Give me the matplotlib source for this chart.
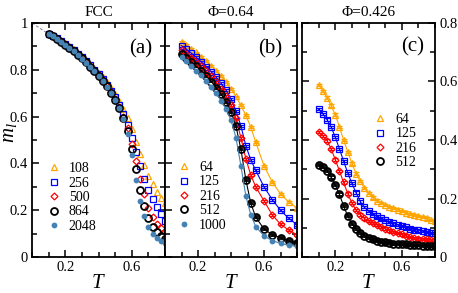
import numpy as np
import matplotlib.pyplot as plt
from matplotlib.lines import Line2D
from matplotlib.ticker import MultipleLocator, FixedLocator, FuncFormatter

plt.rcParams['font.family'] = ['Liberation Serif', 'DejaVu Serif']
plt.rcParams['mathtext.fontset'] = 'custom'
plt.rcParams['mathtext.it'] = 'Liberation Serif:italic'
plt.rcParams['mathtext.rm'] = 'Liberation Serif'

# ---- panel (a): FCC ----
T_a = [0.1, 0.125, 0.15, 0.175, 0.2, 0.225, 0.25, 0.275, 0.3, 0.325, 0.35, 0.375,
       0.4, 0.425, 0.45, 0.475, 0.5, 0.525, 0.55, 0.575, 0.6, 0.625, 0.65, 0.675,
       0.7, 0.725, 0.75, 0.775, 0.8]
sizes_a = ['108', '256', '500', '864', '2048']
m_a_108 = [.956, .947, .936, .925, .913, .900, .887, .873, .858, .842, .825, .807,
           .788, .768, .746, .722, .696, .667, .632, .592, .545, .492, .440, .392,
           .348, .310, .278, .254, .232]
m_a_256 = [.954, .945, .934, .922, .910, .897, .883, .868, .853, .837, .819, .800,
           .780, .759, .736, .710, .682, .650, .612, .566, .510, .450, .390, .335,
           .287, .248, .214, .182, .155]
m_a_500 = [.954, .944, .933, .921, .909, .895, .881, .866, .850, .834, .816, .797,
           .777, .755, .731, .705, .676, .642, .600, .550, .485, .412, .335, .268,
           .210, .170, .140, .122, .108]
m_a_864 = [.953, .943, .932, .920, .908, .894, .880, .865, .849, .832, .814, .795,
           .775, .753, .729, .702, .672, .637, .594, .538, .462, .375, .288, .218,
           .165, .130, .105, .090, .077]
m_a_2048 = [.953, .943, .932, .920, .907, .893, .879, .864, .848, .831, .813, .794,
            .773, .751, .727, .700, .670, .635, .588, .525, .435, .330, .240, .175,
            .130, .100, .082, .070, .060]
dash_T = [0.0, 0.1]
dash_m = [1.0, 0.953]

# ---- panel (b): Phi = 0.64 ----
T_b = [0.1, 0.13, 0.16, 0.19, 0.22, 0.25, 0.28, 0.31, 0.34, 0.37, 0.40, 0.43,
       0.46, 0.49, 0.52, 0.55, 0.6, 0.65, 0.7, 0.75, 0.8]
sizes_b = ['64', '125', '216', '512', '1000']
m_b_64 = [.920, .905, .890, .874, .856, .837, .817, .795, .772, .747, .718, .686,
          .648, .605, .555, .490, .390, .320, .270, .235, .210]
m_b_125 = [.903, .888, .871, .853, .834, .814, .792, .768, .742, .712, .675, .625,
           .560, .475, .415, .370, .300, .245, .200, .165, .138]
m_b_216 = [.885, .869, .852, .834, .815, .794, .772, .747, .720, .688, .648, .592,
           .510, .420, .350, .300, .240, .180, .140, .115, .095]
m_b_512 = [.867, .850, .833, .815, .795, .773, .750, .724, .695, .662, .620, .560,
           .460, .330, .230, .170, .120, .095, .083, .068, .060]
m_b_1000 = [.854, .836, .817, .797, .776, .753, .728, .700, .668, .632, .585, .510,
            .390, .260, .180, .130, .090, .070, .058, .050, .046]

# ---- panel (c): Phi = 0.426 ----
T_c = T_a
sizes_c = ['64', '125', '216', '512']
m_c_64 = [.588, .568, .545, .518, .487, .445, .400, .360, .320, .285, .260, .236,
          .218, .204, .193, .185, .178, .172, .167, .162, .157, .152, .148, .144,
          .140, .136, .132, .127, .122]
m_c_125 = [.505, .490, .470, .445, .410, .370, .328, .288, .252, .220, .190, .170,
           .157, .147, .139, .132, .126, .120, .115, .110, .105, .101, .097, .094,
           .091, .088, .086, .083, .081]
m_c_216 = [.428, .414, .398, .370, .333, .295, .255, .217, .185, .160, .145, .132,
           .123, .116, .110, .103, .097, .091, .086, .081, .077, .073, .069, .066,
           .063, .061, .060, .059, .058]
m_c_512 = [.315, .308, .295, .272, .246, .214, .175, .140, .113, .095, .082, .072,
           .065, .060, .056, .052, .050, .048, .046, .045, .044, .043, .042, .041,
           .040, .039, .038, .037, .036]
err = 0.004

# marker, color, size, edge width, filled
styles = [('^', '#FFA500', 4.3, 0.9, False),
          ('s', '#0000FF', 3.8, 0.9, False),
          ('D', '#FF0000', 3.5, 0.9, False),
          ('o', '#000000', 5.0, 1.3, False),
          ('o', '#4682B4', 4.2, 0.0, True)]


def style_axis(ax, ymax):
    ax.set_xlim(0, 0.8)
    ax.set_ylim(0, ymax)
    ax.xaxis.set_major_locator(FixedLocator([0.2, 0.6]))
    ax.xaxis.set_minor_locator(MultipleLocator(0.1))
    ax.yaxis.set_major_locator(MultipleLocator(0.2))
    ax.yaxis.set_minor_locator(MultipleLocator(0.1))
    ax.yaxis.set_major_formatter(FuncFormatter(lambda v, p: '%g' % round(v, 2)))
    ax.tick_params(which='both', direction='in', top=True, right=True,
                   width=1.1, labelsize=10.5, pad=3)
    ax.tick_params(which='major', length=5)
    ax.tick_params(which='minor', length=3.5)
    for s in ax.spines.values():
        s.set_linewidth(1.3)
    ax.set_xlabel(r'$T$', fontsize=15, labelpad=0)


def marker_kw(st):
    mk, c, ms, mew, filled = st
    return dict(marker=mk, color=c, ms=ms, mfc=c if filled else 'none',
                mec=c, mew=mew)


def proxy(st):
    return Line2D([], [], ls='none', **marker_kw(st))


leg_kw = dict(loc='upper left', frameon=False, fontsize=10, handlelength=1.0,
              handletextpad=0.6, labelspacing=0.1, borderpad=0, borderaxespad=0)

fig = plt.figure(figsize=(4.58, 2.93), dpi=100)
ax_a = fig.add_axes([32 / 458, 36 / 293, 133 / 458, 234 / 293])
ax_b = fig.add_axes([165 / 458, 36 / 293, 132 / 458, 234 / 293])
ax_c = fig.add_axes([302 / 458, 36 / 293, 133 / 458, 234 / 293])

# panel a
ax_a.plot(dash_T, dash_m, ls='--', color='gray', lw=0.7, dashes=(3, 2))
for m, st in zip([m_a_108, m_a_256, m_a_500, m_a_864, m_a_2048], styles):
    ax_a.plot(T_a, m, ls='none', **marker_kw(st))
style_axis(ax_a, 1.0)
ax_a.set_ylabel(r'$m_l$', fontsize=15)
ax_a.yaxis.set_label_coords(-0.1, 0.53)
ax_a.set_title('FCC', fontsize=11, pad=5)
ax_a.text(0.82, 0.89, '(a)', transform=ax_a.transAxes, fontsize=15,
          ha='center', va='center')
ax_a.legend([proxy(s) for s in styles], sizes_a,
            bbox_to_anchor=(0.11, 0.405), **leg_kw)

# panel b
for m, st in zip([m_b_64, m_b_125, m_b_216, m_b_512, m_b_1000], styles):
    ax_b.errorbar(T_b, m, yerr=err, lw=0.8, capsize=2.5, capthick=0.8,
                  elinewidth=0.8, **marker_kw(st))
style_axis(ax_b, 1.0)
ax_b.tick_params(which='both', labelleft=False)
ax_b.set_title('Φ=0.64', fontsize=11, pad=5)
ax_b.text(0.80, 0.89, '(b)', transform=ax_b.transAxes, fontsize=15,
          ha='center', va='center')
ax_b.legend([proxy(s) for s in styles], sizes_b,
            bbox_to_anchor=(0.09, 0.41), **leg_kw)

# panel c
for m, st in zip([m_c_64, m_c_125, m_c_216, m_c_512], styles[:4]):
    ax_c.errorbar(T_c, m, yerr=err, lw=0.8, capsize=2.5, capthick=0.8,
                  elinewidth=0.8, **marker_kw(st))
style_axis(ax_c, 0.8)
ax_c.tick_params(which='both', labelleft=False, labelright=True)
ax_c.set_title('Φ=0.426', fontsize=11, pad=5)
ax_c.text(0.83, 0.9, '(c)', transform=ax_c.transAxes, fontsize=15,
          ha='center', va='center')
ax_c.legend([proxy(s) for s in styles[:4]], sizes_c,
            bbox_to_anchor=(0.535, 0.615), **leg_kw)

fig.savefig('out.png', dpi=100)
